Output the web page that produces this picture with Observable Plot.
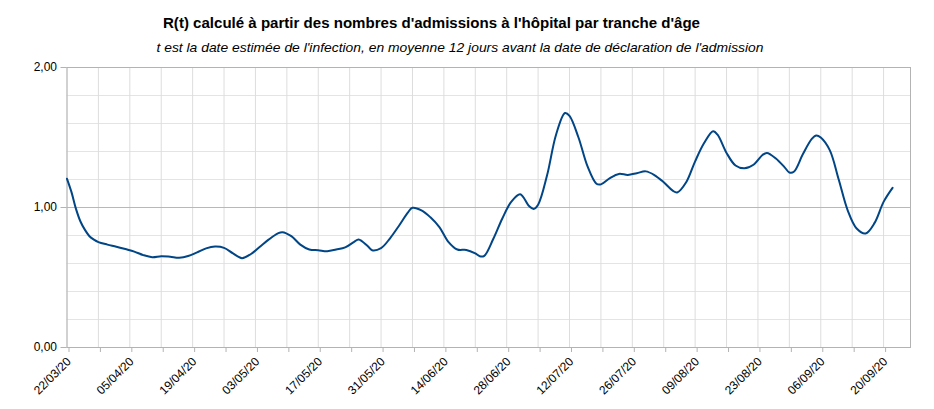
<!DOCTYPE html>
<html><head><meta charset="utf-8">
<script src="https://cdn.jsdelivr.net/npm/d3@7"></script>
<script src="https://cdn.jsdelivr.net/npm/@observablehq/plot@0.6"></script>
<style>
body{margin:0;background:#fff;font-family:"Liberation Sans",Arial,sans-serif}
#head{display:block}
</style>
</head><body>
<div id="chart"></div>
<script>
const title = "R(t) calculé à partir des nombres d'admissions à l'hôpital par tranche d'âge";
const subtitle = "t est la date estimée de l'infection, en moyenne 12 jours avant la date de déclaration de l'admission";

const dates = [
"2020-03-22","2020-03-23","2020-03-24","2020-03-25","2020-03-26","2020-03-27","2020-03-28","2020-03-29","2020-03-31",
"2020-04-02","2020-04-04","2020-04-06","2020-04-08","2020-04-10","2020-04-12","2020-04-14","2020-04-16","2020-04-18",
"2020-04-20","2020-04-22","2020-04-24","2020-04-26","2020-04-28","2020-04-30",
"2020-05-02","2020-05-04","2020-05-06","2020-05-08","2020-05-09","2020-05-11","2020-05-13","2020-05-15","2020-05-17",
"2020-05-19","2020-05-21","2020-05-23","2020-05-25","2020-05-26","2020-05-28","2020-05-29","2020-05-31",
"2020-06-02","2020-06-04","2020-06-06","2020-06-07","2020-06-09","2020-06-11","2020-06-13","2020-06-15","2020-06-17",
"2020-06-19","2020-06-21","2020-06-22","2020-06-23","2020-06-25","2020-06-27","2020-06-29",
"2020-07-01","2020-07-03","2020-07-04","2020-07-05","2020-07-07","2020-07-09","2020-07-11","2020-07-12","2020-07-14",
"2020-07-16","2020-07-18","2020-07-19","2020-07-21","2020-07-23","2020-07-25","2020-07-27","2020-07-29","2020-07-31",
"2020-08-02","2020-08-04","2020-08-05","2020-08-07","2020-08-09","2020-08-11","2020-08-13","2020-08-14","2020-08-16",
"2020-08-18","2020-08-20","2020-08-22","2020-08-24","2020-08-25","2020-08-27","2020-08-29","2020-08-30","2020-08-31",
"2020-09-02","2020-09-04","2020-09-05","2020-09-06","2020-09-08","2020-09-10","2020-09-12","2020-09-14","2020-09-16",
"2020-09-18","2020-09-20","2020-09-22"
];
const values = [
1.205,1.11,0.99,0.90,0.84,0.795,0.77,0.753,0.735,
0.72,0.703,0.685,0.66,0.645,0.652,0.648,0.641,0.653,
0.68,0.708,0.721,0.712,0.672,0.638,
0.668,0.72,0.772,0.815,0.824,0.795,0.735,0.700,0.695,
0.688,0.70,0.715,0.755,0.772,0.725,0.695,0.71,
0.78,0.87,0.965,0.998,0.98,0.93,0.86,0.755,0.70,
0.697,0.672,0.652,0.655,0.775,0.92,1.04,
1.095,1.01,0.99,1.02,1.23,1.52,1.675,1.655,1.50,
1.295,1.17,1.165,1.21,1.24,1.233,1.245,1.258,1.23,
1.18,1.12,1.107,1.18,1.33,1.46,1.545,1.52,1.39,
1.30,1.28,1.305,1.375,1.39,1.35,1.285,1.25,1.255,
1.38,1.49,1.515,1.50,1.41,1.20,0.98,0.85,0.815,
0.89,1.04,1.14
];
const xLabels = ["22/03/20","05/04/20","19/04/20","03/05/20","17/05/20","31/05/20","14/06/20",
  "28/06/20","12/07/20","26/07/20","09/08/20","23/08/20","06/09/20","20/09/20"];
const yTicks = [0, 1, 2];
const yMinor = [0.2, 0.4, 0.6, 0.8, 1.2, 1.4, 1.6, 1.8];
const xDomain = ["2020-03-22", "2020-09-26"];

const parse = d3.utcParse("%Y-%m-%d");
const fmt = d3.utcFormat("%d/%m/%y");
const data = dates.map((d, i) => ({date: parse(d), r: values[i]}));
const domain = xDomain.map(parse);
const weekly = d3.utcSunday.range(domain[0], d3.utcDay.offset(domain[1], 1));
const labelSet = new Set(xLabels);

// header with titles
const ns = "http://www.w3.org/2000/svg";
const head = document.createElementNS(ns, "svg");
head.setAttribute("id", "head");
head.setAttribute("width", 934);
head.setAttribute("height", 58);
function addText(str, x, y, size, weight, style, len) {
  const t = document.createElementNS(ns, "text");
  t.setAttribute("x", x); t.setAttribute("y", y);
  t.setAttribute("text-anchor", "middle");
  t.setAttribute("font-family", "Liberation Sans, Arial, sans-serif");
  t.setAttribute("font-size", size);
  t.setAttribute("font-weight", weight);
  t.setAttribute("font-style", style);
  t.setAttribute("fill", "#000");
  t.setAttribute("textLength", len);
  t.setAttribute("lengthAdjust", "spacingAndGlyphs");
  t.textContent = str;
  head.appendChild(t);
}
addText(title, 431.5, 27.5, 15, "bold", "normal", 537);
addText(subtitle, 460, 52, 13.5, "normal", "italic", 607);

const chart = Plot.plot({
  width: 934,
  height: 351,
  marginTop: 9,
  marginBottom: 62,
  marginLeft: 66.5,
  marginRight: 24,
  style: {fontFamily: "Liberation Sans, Arial, sans-serif", fontSize: "12px", color: "#000", background: "#fff"},
  x: {type: "utc", domain},
  y: {domain: [0, 2]},
  marks: [
    Plot.ruleY(yMinor, {stroke: "#e4e4e4", strokeWidth: 1}),
    Plot.ruleX(weekly, {stroke: "#dddddd", strokeWidth: 1}),
    Plot.ruleY(yTicks, {stroke: "#b8b8b8", strokeWidth: 1}),
    Plot.frame({stroke: "#b3b3b3"}),
    Plot.axisY({ticks: yTicks, tickFormat: d => d.toFixed(2).replace(".", ","), tickSize: 6, tickPadding: 4, stroke: "#b3b3b3", fill: "#000", fontSize: 12, label: null}),
    Plot.axisX({ticks: weekly, tickFormat: d => labelSet.has(fmt(d)) ? fmt(d) : "", tickRotate: -45, tickSize: 5, tickPadding: 7, dx: 2, stroke: "#b3b3b3", fill: "#000", fontSize: 12, label: null}),
    Plot.line(data, {x: "date", y: "r", stroke: "#004586", strokeWidth: 2, curve: "catmull-rom"})
  ]
});
const root = document.getElementById("chart");
root.appendChild(head);
root.appendChild(chart);
</script>
</body></html>
